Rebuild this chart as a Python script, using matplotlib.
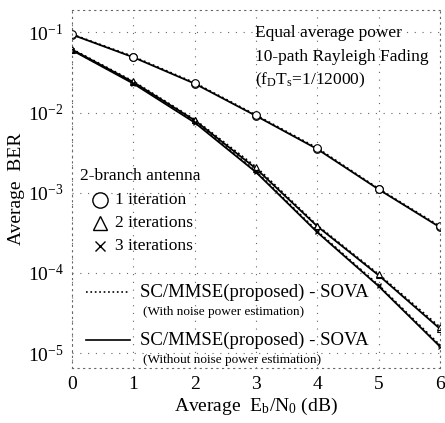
import matplotlib
matplotlib.use("Agg")
import matplotlib.pyplot as plt
from matplotlib.lines import Line2D
from matplotlib.ticker import NullLocator, LogLocator

plt.rcParams['font.family'] = ['Liberation Serif', 'DejaVu Serif']
plt.rcParams['mathtext.fontset'] = 'custom'
plt.rcParams['mathtext.rm'] = 'Liberation Serif'
plt.rcParams['mathtext.it'] = 'Liberation Serif:italic'

# Eb/N0 (dB)
ebn0 = [0, 1, 2, 3, 4, 5, 6]

# BER values
ber_1iter = [0.094, 0.049, 0.023, 0.0091, 0.0035, 0.0011, 3.7e-4]
ber_2iter = [0.061, 0.024, 0.0080, 0.0020, 3.8e-4, 9.3e-5, 2.0e-5]
ber_3iter = [0.060, 0.023, 0.0075, 0.0018, 3.2e-4, 6.8e-5, 1.2e-5]
# with noise power estimation (dotted), nearly identical
ber_1iter_est = [0.095, 0.050, 0.0235, 0.0093, 0.0036, 0.00112, 3.8e-4]
ber_2iter_est = [0.062, 0.0245, 0.0082, 0.0021, 3.9e-4, 9.6e-5, 2.1e-5]
ber_3iter_est = [0.0605, 0.0235, 0.0077, 0.00185, 3.3e-4, 7.0e-5, 1.25e-5]

fig = plt.figure(figsize=(4.45, 4.23), dpi=100)
ax = fig.add_axes([0.162, 0.130, 0.827, 0.846])

series = [
    (ber_1iter, 'o', 5.5, '-'), (ber_1iter_est, 'o', 5.5, ':'),
    (ber_2iter, '^', 4, '-'), (ber_2iter_est, '^', 4, ':'),
    (ber_3iter, 'x', 3.5, '-'), (ber_3iter_est, 'x', 3.5, ':'),
]
for vals, mk, ms, ls in series:
    ax.plot(ebn0, vals, color='black', linestyle=ls, linewidth=1.3,
            marker=mk, markersize=ms, markerfacecolor='white',
            markeredgecolor='black', markeredgewidth=0.8)

ax.set_yscale('log')
ax.set_xlim(0, 6)
ax.set_ylim(6.5e-6, 0.19)
ax.set_xticks(ebn0)
ax.yaxis.set_major_locator(LogLocator(base=10, numticks=10))
ax.yaxis.set_minor_locator(NullLocator())
ax.tick_params(length=0, labelsize=14, pad=6)
ax.grid(True, linestyle=(0, (1, 6)), color='#666666', linewidth=0.8)
for sp in ax.spines.values():
    sp.set_linestyle((0, (1, 4)))
    sp.set_color('#666666')
    sp.set_linewidth(0.8)

ax.set_ylabel('Average  BER', fontsize=14, labelpad=2)
ax.set_xlabel(r'Average  E$_\mathrm{b}$/N$_\mathrm{0}$ (dB)', fontsize=14, labelpad=2)


def ax_xy(px, py):
    return (px - 72) / 368, (368 - py) / 358


def put(px, py, s, size, ha='left'):
    x, y = ax_xy(px, py)
    ax.text(x, y, s, transform=ax.transAxes, fontsize=size, ha=ha, va='center')


put(255, 33, 'Equal average power', 12.5)
put(255, 57, '10-path Rayleigh Fading', 12.5)
put(255, 80, r'(f$_\mathrm{D}$T$_\mathrm{s}$=1/12000)', 12.5)

put(80, 176, '2-branch antenna', 12.5)
for py, mk, ms, label in [(200, 'o', 11, '1 iteration'),
                          (223, '^', 10, '2 iterations'),
                          (246, 'x', 7, '3 iterations')]:
    x, y = ax_xy(100, py)
    ax.add_line(Line2D([x], [y], transform=ax.transAxes, marker=mk, markersize=ms,
                       markerfacecolor='none', markeredgecolor='black',
                       markeredgewidth=1.0, linestyle='none'))
    put(115, py, label, 12.5)

for py, ls, sub in [(292, ':', '(With noise power estimation)'),
                    (340, '-', '(Without noise power estimation)')]:
    x0, y0 = ax_xy(86, py)
    x1, _ = ax_xy(130, py)
    ax.add_line(Line2D([x0, x1], [y0, y0], transform=ax.transAxes,
                       color='black', linestyle=ls, linewidth=1.2))
    put(140, py, 'SC/MMSE(proposed) - SOVA', 13.5)
    put(143, py + 20, sub, 9.5)

fig.savefig('out.png', dpi=100)
